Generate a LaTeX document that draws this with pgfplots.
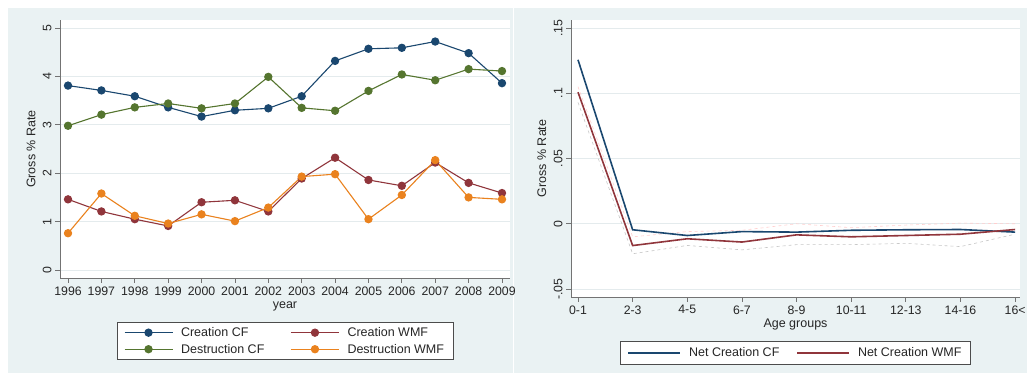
\documentclass[border=0pt]{standalone}
\usepackage{fontspec}
\setmainfont{Liberation Sans}
\usepackage{pgfplots}
\pgfplotsset{compat=1.18}
\definecolor{navy}{RGB}{26,71,111}
\definecolor{maroon}{RGB}{144,53,59}
\definecolor{fgreen}{RGB}{85,117,47}
\definecolor{dkorange}{RGB}{234,130,30}
\definecolor{bgc}{RGB}{234,242,243}
\definecolor{gridc}{RGB}{228,235,237}
\pgfplotsset{
  stata/.style={
    scale only axis,
    axis x line*=bottom, axis y line*=left,
    x axis line style={-}, y axis line style={-},
    axis line style={black!55, line width=0.8pt},
    tick style={black!55, line width=0.8pt},
    tick align=outside, major tick length=5pt,
    axis background/.style={fill=white},
    ymajorgrids, grid style={gridc, line width=0.9pt},
    tick label style={font=\fontsize{12.3}{14}\selectfont, text=black!85},
    yticklabel style={rotate=90, anchor=south},
    label style={font=\fontsize{12.5}{14}\selectfont, text=black!85},
    legend style={font=\fontsize{12.5}{14}\selectfont, text=black!85, draw=black!70, line width=0.8pt, fill=white,
      inner xsep=7pt, inner ysep=3pt, row sep=2pt,
      /tikz/every odd column/.append style={column sep=6pt}},
    legend cell align=left,
  }
}
\begin{document}
\begin{tikzpicture}
\path[use as bounding box, fill=white] (0,0) rectangle (1027pt,374pt);
\fill[bgc] (8pt,1pt) rectangle (512.5pt,366pt);
\fill[bgc] (513.5pt,1pt) rectangle (1027pt,366pt);

\begin{axis}[stata,
  at={(60pt,96pt)}, anchor=south west, width=450pt, height=258pt,
  xmin=1995.76, xmax=2009.24, ymin=-0.165, ymax=5.165,
  xtick={1996,1997,1998,1999,2000,2001,2002,2003,2004,2005,2006,2007,2008,2009},
  xticklabels={1996,1997,1998,1999,2000,2001,2002,2003,2004,2005,2006,2007,2008,2009},
  ytick={0,1,2,3,4,5}, yticklabels={0,1,2,3,4,5},
  xlabel={year}, ylabel={Gross \% Rate},
  xlabel style={at={(axis description cs:0.5,-0.112)}, anchor=center},
  ylabel style={at={(axis description cs:-0.0644,0.5)}, anchor=center},
  legend columns=2,
  legend style={at={(axis description cs:0.5,-0.1705)}, anchor=north,
    /tikz/every even column/.append style={column sep=24pt}},
  legend image code/.code={\draw[mark repeat=2,mark phase=2,#1] plot coordinates {(0pt,0pt) (24pt,0pt) (48pt,0pt)};},
  every axis plot/.append style={line width=1.1pt, mark=*, mark size=3.6pt},
]
\addplot[navy, mark options={fill=navy}] coordinates {
(1996,3.81) (1997,3.71) (1998,3.59) (1999,3.36) (2000,3.17) (2001,3.30) (2002,3.34)
(2003,3.59) (2004,4.32) (2005,4.57) (2006,4.59) (2007,4.72) (2008,4.48) (2009,3.86)};
\addlegendentry{Creation CF}
\addplot[maroon, mark options={fill=maroon}] coordinates {
(1996,1.46) (1997,1.21) (1998,1.05) (1999,0.91) (2000,1.40) (2001,1.44) (2002,1.21)
(2003,1.89) (2004,2.32) (2005,1.86) (2006,1.74) (2007,2.22) (2008,1.80) (2009,1.59)};
\addlegendentry{Creation WMF}
\addplot[fgreen, mark options={fill=fgreen}] coordinates {
(1996,2.98) (1997,3.21) (1998,3.36) (1999,3.44) (2000,3.34) (2001,3.44) (2002,3.99)
(2003,3.35) (2004,3.29) (2005,3.70) (2006,4.04) (2007,3.92) (2008,4.15) (2009,4.11)};
\addlegendentry{Destruction CF}
\addplot[dkorange, mark options={fill=dkorange}] coordinates {
(1996,0.76) (1997,1.58) (1998,1.12) (1999,0.96) (2000,1.15) (2001,1.01) (2002,1.29)
(2003,1.93) (2004,1.98) (2005,1.05) (2006,1.55) (2007,2.27) (2008,1.50) (2009,1.46)};
\addlegendentry{Destruction WMF}
\end{axis}

\begin{axis}[stata,
  at={(571pt,77pt)}, anchor=south west, width=449pt, height=277pt,
  xmin=-0.128, xmax=8.09, ymin=-0.0561, ymax=0.1561,
  xtick={0,1,2,3,4,5,6,7,8},
  xticklabels={0-1,2-3,4-5,6-7,8-9,10-11,12-13,14-16,16<},
  ytick={-0.05,0,0.05,0.1,0.15}, yticklabels={-.05,0,.05,.1,.15},
  xlabel={Age groups}, ylabel={Gross \% Rate},
  xlabel style={at={(axis description cs:0.5,-0.101)}, anchor=center},
  ylabel style={at={(axis description cs:-0.065,0.5)}, anchor=center},
  legend columns=2,
  legend style={at={(axis description cs:0.5,-0.159)}, anchor=north, inner ysep=4pt,
    /tikz/every even column/.append style={column sep=15pt}},
  legend image code/.code={\draw[#1] (0pt,0pt) -- (52pt,0pt);},
]
\addplot[forget plot, pink!70!red!40, dashed, line width=0.6pt] coordinates {
(0,0.105) (1,-0.010) (2,-0.006) (3,-0.005) (4,0.000) (5,-0.003) (6,-0.001) (7,0.0005) (8,0.000)};
\addplot[forget plot, black!22, dashed, line width=0.6pt] coordinates {
(0,0.093) (1,-0.023) (2,-0.0166) (3,-0.020) (4,-0.016) (5,-0.016) (6,-0.015) (7,-0.0175) (8,-0.008)};
\addplot[navy, line width=1.6pt] coordinates {
(0,0.1256) (1,-0.0046) (2,-0.009) (3,-0.006) (4,-0.0064) (5,-0.005) (6,-0.0046) (7,-0.0044) (8,-0.0064)};
\addlegendentry{Net Creation CF}
\addplot[maroon, line width=1.6pt] coordinates {
(0,0.1008) (1,-0.0167) (2,-0.0115) (3,-0.014) (4,-0.0085) (5,-0.010) (6,-0.009) (7,-0.008) (8,-0.0044)};
\addlegendentry{Net Creation WMF}
\end{axis}
\end{tikzpicture}
\end{document}
